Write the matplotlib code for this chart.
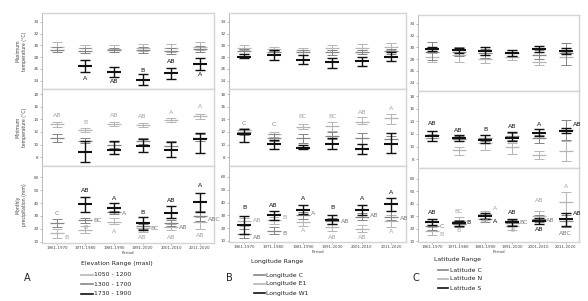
import numpy as np
import matplotlib
matplotlib.use('Agg')
import matplotlib.pyplot as plt
from matplotlib.lines import Line2D

plt.rcParams['font.family'] = ['Liberation Sans Narrow', 'DejaVu Sans']

nan = np.nan
periods = ['1961-1970', '1971-1980', '1981-1990', '1991-2000', '2001-2010', '2011-2020']
row_labels = ['Maximum\ntemperature (°C)', 'Minimum\ntemperature (°C)', 'Monthly\nprecipitation (mm)']

# series order in every list: light gray, mid gray, black
a_title = 'Elevation Range (masl)'
a_names = ['1050 - 1200', '1300 - 1700', '1730 - 1900']
b_title = 'Longitude Range'
b_names = ['Longitude C', 'Longitude E1', 'Longitude W1']   # legend order (mid, light, black)
c_title = 'Latitude Range'
c_names = ['Latitude C', 'Latitude N', 'Latitude S']        # legend order (mid, light, black)

# ---- Panel A: elevation ----
a_tmax_mean = [[29.8, 29.5, 29.4, 29.6, 29.5, 29.8], [29.3, 29.1, 29.2, 29.2, 29.0, 29.4], [nan, 26.5, 25.5, 24.2, 25.3, 26.8]]
a_tmax_lo = [[29.2, 29.0, 28.9, 29.0, 28.9, 29.3], [28.9, 28.7, 28.8, 28.7, 28.5, 28.9], [nan, 25.5, 24.7, 23.3, 24.3, 25.8]]
a_tmax_hi = [[30.5, 30.0, 30.0, 30.3, 30.3, 30.6], [29.8, 29.6, 29.6, 29.7, 29.5, 29.9], [nan, 27.6, 26.3, 25.2, 26.2, 27.8]]
a_tmin_mean = [[13.2, 12.3, 13.2, 13.1, 13.9, 14.5], [11.1, 10.6, 10.0, 10.6, 9.8, 11.1], [nan, 8.8, 9.2, 9.8, 9.1, 10.8]]
a_tmin_lo = [[12.8, 12.0, 12.9, 12.8, 13.6, 14.0], [10.4, 10.2, 9.5, 10.1, 9.3, 10.6], [nan, 7.3, 8.5, 8.8, 8.1, 8.6]]
a_tmin_hi = [[13.6, 12.6, 13.6, 13.4, 14.2, 14.8], [11.7, 11.0, 10.4, 11.0, 10.5, 11.6], [nan, 10.6, 10.5, 10.9, 10.4, 11.9]]
a_prec_mean = [[16.7, 19.2, 25.6, 21.0, 21.8, 25.0], [24.4, 27.0, 32.8, 22.3, 24.4, 30.0], [nan, 39.0, 35.9, 24.8, 32.0, 40.5]]
a_prec_lo = [[12.8, 17.2, 23.8, 18.0, 19.5, 20.0], [21.3, 24.8, 31.4, 19.8, 22.0, 26.0], [nan, 32.8, 33.3, 19.2, 28.2, 33.3]]
a_prec_hi = [[19.8, 22.3, 28.2, 24.0, 24.0, 29.0], [27.7, 28.2, 34.2, 23.8, 27.0, 34.0], [nan, 44.4, 39.7, 29.5, 37.7, 47.9]]

# ---- Panel B: longitude ----
b_tmax_mean = [[29.6, 29.4, 29.3, 29.6, 29.6, 29.8], [29.0, 28.9, 28.8, 28.8, 28.9, 29.0], [28.1, 28.4, 27.6, 27.1, 27.4, 28.1]]
b_tmax_lo = [[29.2, 29.0, 28.9, 29.2, 29.2, 29.3], [28.6, 28.5, 28.4, 28.4, 28.5, 28.6], [27.8, 27.6, 26.9, 26.1, 26.5, 27.4]]
b_tmax_hi = [[30.1, 29.8, 29.6, 30.1, 30.2, 30.4], [29.4, 29.3, 29.2, 29.3, 29.3, 29.4], [28.5, 29.2, 28.4, 27.8, 28.0, 28.8]]
b_tmin_mean = [[12.3, 11.6, 12.8, 12.9, 13.6, 14.2], [12.0, 11.1, 11.1, 11.4, 11.1, 10.8], [11.7, 10.1, 9.5, 10.1, 9.3, 10.1]]
b_tmin_lo = [[11.9, 11.2, 12.4, 12.2, 13.2, 13.3], [11.5, 10.6, 10.3, 10.8, 10.1, 10.2], [10.4, 9.3, 9.3, 9.3, 8.5, 8.6]]
b_tmin_hi = [[12.6, 12.0, 13.2, 13.5, 14.3, 14.8], [12.4, 11.6, 11.7, 12.0, 11.9, 11.4], [12.4, 10.7, 9.9, 11.1, 10.1, 11.9]]
b_prec_mean = [[25.3, 26.0, 24.7, 20.8, 19.5, 25.6], [15.5, 18.0, 30.0, 25.5, 29.0, 29.0], [22.1, 30.3, 33.9, 26.0, 33.9, 39.2]]
b_prec_lo = [[22.0, 23.0, 22.0, 18.0, 17.0, 21.0], [12.5, 15.5, 27.5, 23.5, 26.0, 26.0], [15.5, 26.6, 31.3, 23.4, 30.0, 33.3]]
b_prec_hi = [[28.0, 29.0, 27.5, 23.5, 22.5, 30.0], [19.0, 21.0, 32.5, 28.0, 32.0, 33.0], [29.2, 33.2, 37.9, 30.0, 37.9, 43.7]]

# ---- Panel C: latitude ----
c_tmax_mean = [[28.4, 28.7, 28.0, 28.4, 27.5, 28.4], [29.3, 29.3, 29.0, 29.1, 28.7, 29.1], [29.7, 29.5, 29.4, 29.0, 29.7, 29.4]]
c_tmax_lo = [[27.5, 27.5, 27.3, 27.8, 27.0, 27.0], [27.9, 28.5, 28.2, 28.5, 28.1, 27.0], [29.4, 29.0, 28.7, 28.6, 29.2, 28.9]]
c_tmax_hi = [[29.0, 29.3, 28.7, 29.0, 28.1, 29.2], [31.0, 30.0, 29.8, 29.6, 29.5, 30.7], [30.1, 29.9, 30.1, 29.5, 30.2, 29.9]]
c_tmin_mean = [[11.4, 9.4, 10.5, 9.9, 8.7, 9.3], [11.9, 11.2, 11.3, 11.6, 11.3, 12.6], [11.7, 11.3, 11.0, 11.4, 12.2, 12.4]]
c_tmin_lo = [[10.9, 8.7, 9.5, 8.8, 8.0, 7.7], [11.3, 10.8, 10.8, 11.0, 10.5, 11.0], [10.9, 10.9, 10.5, 10.8, 11.7, 12.1]]
c_tmin_hi = [[12.0, 10.0, 11.3, 10.6, 9.3, 10.8], [12.5, 11.7, 11.8, 12.2, 11.8, 14.2], [12.5, 11.8, 11.8, 12.3, 12.8, 12.9]]
c_prec_mean = [[18.3, 26.1, 31.3, 22.2, 30.0, 40.9], [22.2, 24.0, 27.9, 24.8, 27.9, 26.1], [25.3, 24.3, 30.0, 25.3, 26.1, 27.9]]
c_prec_lo = [[14.5, 22.0, 28.5, 19.0, 27.4, 32.6], [19.0, 21.5, 25.5, 22.5, 25.0, 21.0], [22.7, 22.2, 27.4, 22.2, 23.5, 22.2]]
c_prec_hi = [[21.0, 29.5, 34.0, 25.0, 33.9, 49.5], [25.0, 26.5, 30.0, 27.0, 30.5, 31.0], [27.9, 26.1, 32.6, 27.9, 28.7, 32.6]]

# significance letters: (period index, y, text, series, side)
a_tmax_letters = [(1, 24.4, 'A', 2, 'c'), (2, 23.8, 'AB', 2, 'c'), (3, 25.8, 'B', 2, 'c'),
                  (4, 27.2, 'AB', 2, 'c'), (5, 25.0, 'A', 2, 'c')]
a_tmin_letters = [(0, 14.6, 'AB', 0, 'c'), (1, 13.5, 'B', 0, 'c'), (2, 14.6, 'AB', 0, 'c'),
                  (3, 14.4, 'AB', 0, 'c'), (4, 15.1, 'A', 0, 'c'), (5, 16.0, 'A', 0, 'c')]
a_prec_letters = [(0, 32.1, 'C', 1, 'c'), (0, 13.6, 'B', 0, 'r'),
                  (1, 50.0, 'AB', 2, 'c'), (1, 26.2, 'BC', 1, 'r'), (1, 21.3, 'B', 0, 'c'),
                  (2, 43.6, 'A', 2, 'c'), (2, 32.1, 'A', 1, 'r'), (2, 17.9, 'A', 0, 'c'),
                  (3, 32.8, 'B', 2, 'c'), (3, 20.5, 'BC', 1, 'r'), (3, 13.6, 'AB', 0, 'c'),
                  (4, 41.8, 'AB', 2, 'c'), (4, 21.0, 'AB', 1, 'r'), (4, 13.6, 'AB', 0, 'c'),
                  (5, 53.8, 'A', 2, 'c'), (5, 27.5, 'ABC', 1, 'r'), (5, 14.6, 'AB', 0, 'c')]
b_tmax_letters = []
b_tmin_letters = [(0, 13.3, 'C', 1, 'c'), (1, 13.2, 'C', 1, 'c'), (2, 14.4, 'BC', 0, 'c'),
                  (3, 14.4, 'BC', 0, 'c'), (4, 15.1, 'AB', 0, 'c'), (5, 15.7, 'A', 0, 'c')]
b_prec_letters = [(0, 36.1, 'B', 2, 'c'), (0, 26.1, 'AB', 0, 'r'), (0, 12.4, 'AB', 1, 'r'),
                  (1, 37.9, 'AB', 2, 'c'), (1, 28.2, 'B', 0, 'r'), (1, 15.5, 'B', 1, 'r'),
                  (2, 43.2, 'A', 2, 'c'), (2, 31.3, 'A', 1, 'r'), (2, 18.2, 'A', 0, 'c'),
                  (3, 36.1, 'B', 2, 'c'), (3, 25.5, 'AB', 1, 'r'), (3, 12.9, 'AB', 0, 'c'),
                  (4, 43.2, 'A', 2, 'c'), (4, 30.0, 'AB', 1, 'r'), (4, 12.9, 'AB', 0, 'c'),
                  (5, 47.5, 'A', 2, 'c'), (5, 27.5, 'AB', 1, 'r'), (5, 17.2, 'A', 0, 'c')]
c_tmax_letters = []
c_tmin_letters = [(0, 13.6, 'AB', 2, 'c'), (1, 12.5, 'AB', 2, 'c'), (2, 12.7, 'B', 2, 'c'),
                  (3, 13.2, 'AB', 2, 'c'), (4, 13.5, 'A', 2, 'c'), (5, 13.5, 'AB', 2, 'r')]
c_prec_letters = [(0, 33.1, 'AB', 2, 'c'), (0, 21.7, 'C', 1, 'r'), (0, 14.9, 'B', 0, 'r'),
                  (1, 33.9, 'BC', 0, 'c'), (1, 24.8, 'B', 2, 'r'), (1, 18.3, 'B', 0, 'c'),
                  (2, 35.7, 'A', 0, 'r'), (2, 25.3, 'A', 2, 'r'), (2, 25.3, 'AB', 0, 'c'),
                  (3, 32.6, 'AB', 2, 'c'), (3, 24.8, 'BC', 1, 'r'), (3, 18.3, 'B', 0, 'c'),
                  (4, 42.5, 'AB', 0, 'c'), (4, 26.6, 'AB', 1, 'r'), (4, 19.1, 'AB', 2, 'c'),
                  (5, 53.4, 'A', 0, 'c'), (5, 31.8, 'AB', 2, 'r'), (5, 15.7, 'ABC', 1, 'c')]

COLORS = ['#b5b5b5', '#858585', '#111111']
TXT_COLORS = ['#a5a5a5', '#7a7a7a', '#111111']
W, H = 588, 301
fig = plt.figure(figsize=(W / 100, H / 100), dpi=100)
fig.patch.set_facecolor('white')


def px_axes(x0, y0, x1, y1):
    return fig.add_axes([x0 / W, 1 - y1 / H, (x1 - x0) / W, (y1 - y0) / H])


ylims = [(22.6, 35.5), (6.6, 18.8), (9.2, 68.5)]
yticks = [np.arange(24, 35, 2), np.arange(8, 19, 2), np.arange(10, 61, 10)]

panels = [
    dict(x=(42, 214), rows=[(13, 89), (89, 166), (166, 243)],
         data=[(a_tmax_mean, a_tmax_lo, a_tmax_hi, a_tmax_letters),
               (a_tmin_mean, a_tmin_lo, a_tmin_hi, a_tmin_letters),
               (a_prec_mean, a_prec_lo, a_prec_hi, a_prec_letters)]),
    dict(x=(229, 406), rows=[(13, 89), (89, 166), (166, 242)],
         data=[(b_tmax_mean, b_tmax_lo, b_tmax_hi, b_tmax_letters),
               (b_tmin_mean, b_tmin_lo, b_tmin_hi, b_tmin_letters),
               (b_prec_mean, b_prec_lo, b_prec_hi, b_prec_letters)]),
    dict(x=(418, 579), rows=[(15, 91), (91, 168), (168, 242)],
         data=[(c_tmax_mean, c_tmax_lo, c_tmax_hi, c_tmax_letters),
               (c_tmin_mean, c_tmin_lo, c_tmin_hi, c_tmin_letters),
               (c_prec_mean, c_prec_lo, c_prec_hi, c_prec_letters)]),
]

xs = np.arange(len(periods))
for pi, p in enumerate(panels):
    for ri, (y0, y1) in enumerate(p['rows']):
        ax = px_axes(p['x'][0], y0, p['x'][1], y1)
        mean, lo, hi, letters = p['data'][ri]
        for si in range(3):
            m = np.array(mean[si]); l = np.array(lo[si]); h = np.array(hi[si])
            ok = ~np.isnan(m)
            black = si == 2
            ax.errorbar(xs[ok], m[ok], yerr=[m[ok] - l[ok], h[ok] - m[ok]], fmt='none',
                        ecolor=COLORS[si], elinewidth=1.0 if black else 0.7,
                        capsize=3.8, capthick=1.0 if black else 0.7, zorder=2 + si)
            ax.plot(xs[ok], m[ok], ls='none', marker='_', ms=10.5,
                    mew=1.5 if black else 0.9, color=COLORS[si], zorder=3 + si)
        for (k, yv, txt, si, side) in letters:
            if side == 'r':
                ax.text(k + 0.28, yv, txt, ha='left', va='center', fontsize=4.5,
                        color=TXT_COLORS[si], zorder=10)
            else:
                ax.text(k, yv, txt, ha='center', va='center', fontsize=4.5,
                        color=TXT_COLORS[si], zorder=10)
        ax.set_xlim(-0.52, 5.5)
        ax.set_ylim(*ylims[ri])
        ax.set_yticks(yticks[ri])
        ax.tick_params(axis='y', labelsize=3, length=1.5, width=0.4, color='#888888',
                       pad=1, labelcolor='#444444')
        for s in ['top', 'right', 'bottom']:
            ax.spines[s].set_color('#d4d4d4')
            ax.spines[s].set_linewidth(1.0)
        ax.spines['left'].set_color('#a0a0a0')
        ax.spines['left'].set_linewidth(0.5)
        if ri == 2:
            ax.set_xticks(xs)
            ax.set_xticklabels(periods)
            ax.tick_params(axis='x', labelsize=2.9, length=1.2, width=0.4, color='#888888',
                           pad=1, labelcolor='#444444')
            ax.set_xlabel('Period', fontsize=2.9, labelpad=1, color='#444444')
        else:
            ax.set_xticks([])
        if pi == 0:
            fig.text(21 / W, 1 - ((y0 + y1) / 2) / H, row_labels[ri], rotation=90,
                     ha='center', va='center', fontsize=3.3, color='#444444',
                     linespacing=1.3)

# legends
legend_specs = [
    (a_title, a_names, [0, 1, 2], (81, 264), (81, 93), [275, 284.3, 293.7], 'A', (27, 278)),
    (b_title, b_names, [1, 0, 2], (251, 261), (254, 265), [275, 284, 293], 'B', (229, 278)),
    (c_title, c_names, [1, 0, 2], (434, 260), (438, 448), [270, 279, 288], 'C', (416, 278)),
]
for title, names, order, tpos, lx, ly, letter, lpos in legend_specs:
    fig.text(tpos[0] / W, 1 - tpos[1] / H, title, ha='left', va='center', fontsize=4.4,
             color='#222222')
    for name, si, yy in zip(names, order, ly):
        fig.add_artist(Line2D([lx[0] / W, lx[1] / W], [1 - yy / H, 1 - yy / H],
                              color=COLORS[si], lw=1.2))
        fig.text((lx[1] + 1.5) / W, 1 - yy / H, name, ha='left', va='center',
                 fontsize=4.4, color='#222222')
    fig.text(lpos[0] / W, 1 - lpos[1] / H, letter, ha='center', va='center',
             fontsize=7, color='#222222')

fig.savefig('out.png', dpi=100, facecolor='white')
